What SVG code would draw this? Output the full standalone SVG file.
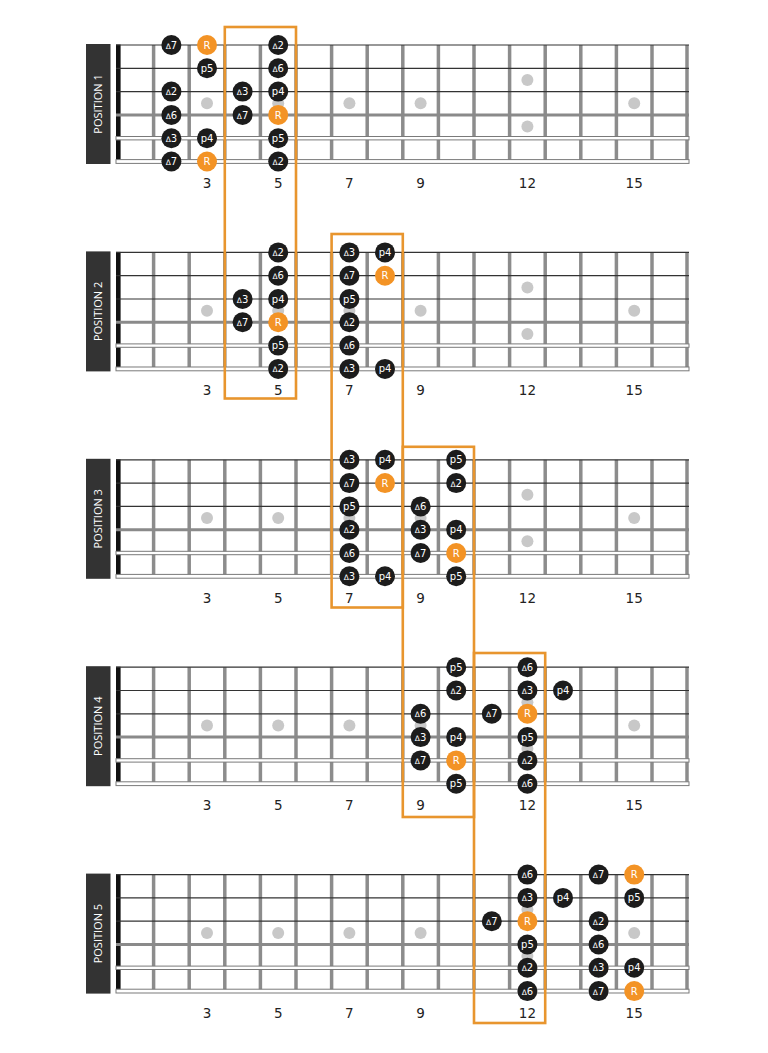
<svg xmlns="http://www.w3.org/2000/svg" xmlns:xlink="http://www.w3.org/1999/xlink" width="768" height="1053" viewBox="0 0 768 1053">
<style>
.fret{stroke:#8c8c8c;stroke-width:3.5}
.thin{stroke:#333;stroke-width:1.2}
.s4{stroke:#8a8a8a;stroke-width:3}
.wound{fill:#fff;stroke:#7a7a7a;stroke-width:1}
.mk{fill:#c8c8c8}
.lbl{fill:#333}
.lt{fill:#fff;font-family:"Open Sans","DejaVu Sans",sans-serif;font-size:11px;text-anchor:middle}
.num{fill:#222;font-family:"DejaVu Sans",Verdana,sans-serif;font-size:13.5px;text-anchor:middle}
.d{fill:#1c1c1c}
.r{fill:#f39325}
.t{fill:#fff;font-family:"DejaVu Sans",Verdana,sans-serif;font-size:10px;text-anchor:middle}
.tri{font-size:7.5px}
.box{fill:none;stroke:#e8952e;stroke-width:2.6}
</style>
<defs>
<g id="board">
<g class="fret">
<line x1="153.6" y1="0" x2="153.6" y2="116.5"/><line x1="189.2" y1="0" x2="189.2" y2="116.5"/><line x1="224.8" y1="0" x2="224.8" y2="116.5"/><line x1="260.4" y1="0" x2="260.4" y2="116.5"/><line x1="296" y1="0" x2="296" y2="116.5"/><line x1="331.6" y1="0" x2="331.6" y2="116.5"/><line x1="367.2" y1="0" x2="367.2" y2="116.5"/><line x1="402.8" y1="0" x2="402.8" y2="116.5"/><line x1="438.4" y1="0" x2="438.4" y2="116.5"/><line x1="474" y1="0" x2="474" y2="116.5"/><line x1="509.6" y1="0" x2="509.6" y2="116.5"/><line x1="545.2" y1="0" x2="545.2" y2="116.5"/><line x1="580.8" y1="0" x2="580.8" y2="116.5"/><line x1="616.4" y1="0" x2="616.4" y2="116.5"/><line x1="652" y1="0" x2="652" y2="116.5"/><line x1="687" y1="0" x2="687" y2="116.5"/>
</g>
<rect x="116" y="-0.5" width="4.6" height="117.5" fill="#111"/>
<line class="thin" x1="116" y1="0" x2="689" y2="0"/>
<line class="thin" x1="116" y1="23.3" x2="689" y2="23.3"/>
<line class="thin" x1="116" y1="46.6" x2="689" y2="46.6"/>
<line class="s4" x1="116" y1="69.9" x2="689" y2="69.9"/>
<rect class="wound" x="116" y="91.5" width="573" height="3.4"/>
<rect class="wound" x="116" y="114.6" width="573" height="3.8"/>
<circle class="mk" cx="207" cy="58.3" r="6"/><circle class="mk" cx="278.2" cy="58.3" r="6"/><circle class="mk" cx="349.4" cy="58.3" r="6"/><circle class="mk" cx="420.6" cy="58.3" r="6"/><circle class="mk" cx="527.4" cy="35" r="6"/><circle class="mk" cx="527.4" cy="81.5" r="6"/><circle class="mk" cx="634.2" cy="58.3" r="6"/>
</g>
</defs>

<g id="position-1" transform="translate(0,45)">
<use xlink:href="#board" href="#board"/>
<rect class="lbl" x="86" y="-1" width="24.5" height="120"/>
<text class="lt" transform="translate(102.3,59) rotate(-90)">POSITION 1</text>
<g class="nums"><text class="num" x="207" y="143">3</text><text class="num" x="278.2" y="143">5</text><text class="num" x="349.4" y="143">7</text><text class="num" x="420.6" y="143">9</text><text class="num" x="527.4" y="143">12</text><text class="num" x="634.2" y="143">15</text></g>
<circle class="d" cx="171.4" cy="0" r="10"/><text class="t" x="171.4" y="3.6"><tspan class="tri">Δ</tspan>7</text>
<circle class="r" cx="207" cy="0" r="10"/><text class="t" x="207" y="3.6">R</text>
<circle class="d" cx="278.2" cy="0" r="10"/><text class="t" x="278.2" y="3.6"><tspan class="tri">Δ</tspan>2</text>
<circle class="d" cx="207" cy="23.3" r="10"/><text class="t" x="207" y="26.9">p5</text>
<circle class="d" cx="278.2" cy="23.3" r="10"/><text class="t" x="278.2" y="26.9"><tspan class="tri">Δ</tspan>6</text>
<circle class="d" cx="171.4" cy="46.6" r="10"/><text class="t" x="171.4" y="50.2"><tspan class="tri">Δ</tspan>2</text>
<circle class="d" cx="242.6" cy="46.6" r="10"/><text class="t" x="242.6" y="50.2"><tspan class="tri">Δ</tspan>3</text>
<circle class="d" cx="278.2" cy="46.6" r="10"/><text class="t" x="278.2" y="50.2">p4</text>
<circle class="d" cx="171.4" cy="69.9" r="10"/><text class="t" x="171.4" y="73.5"><tspan class="tri">Δ</tspan>6</text>
<circle class="d" cx="242.6" cy="69.9" r="10"/><text class="t" x="242.6" y="73.5"><tspan class="tri">Δ</tspan>7</text>
<circle class="r" cx="278.2" cy="69.9" r="10"/><text class="t" x="278.2" y="73.5">R</text>
<circle class="d" cx="171.4" cy="93.2" r="10"/><text class="t" x="171.4" y="96.8"><tspan class="tri">Δ</tspan>3</text>
<circle class="d" cx="207" cy="93.2" r="10"/><text class="t" x="207" y="96.8">p4</text>
<circle class="d" cx="278.2" cy="93.2" r="10"/><text class="t" x="278.2" y="96.8">p5</text>
<circle class="d" cx="171.4" cy="116.5" r="10"/><text class="t" x="171.4" y="120.1"><tspan class="tri">Δ</tspan>7</text>
<circle class="r" cx="207" cy="116.5" r="10"/><text class="t" x="207" y="120.1">R</text>
<circle class="d" cx="278.2" cy="116.5" r="10"/><text class="t" x="278.2" y="120.1"><tspan class="tri">Δ</tspan>2</text>
</g>

<g id="position-2" transform="translate(0,252.4)">
<use xlink:href="#board" href="#board"/>
<rect class="lbl" x="86" y="-1" width="24.5" height="120"/>
<text class="lt" transform="translate(102.3,59) rotate(-90)">POSITION 2</text>
<g class="nums"><text class="num" x="207" y="143">3</text><text class="num" x="278.2" y="143">5</text><text class="num" x="349.4" y="143">7</text><text class="num" x="420.6" y="143">9</text><text class="num" x="527.4" y="143">12</text><text class="num" x="634.2" y="143">15</text></g>
<circle class="d" cx="278.2" cy="0" r="10"/><text class="t" x="278.2" y="3.6"><tspan class="tri">Δ</tspan>2</text>
<circle class="d" cx="349.4" cy="0" r="10"/><text class="t" x="349.4" y="3.6"><tspan class="tri">Δ</tspan>3</text>
<circle class="d" cx="385" cy="0" r="10"/><text class="t" x="385" y="3.6">p4</text>
<circle class="d" cx="278.2" cy="23.3" r="10"/><text class="t" x="278.2" y="26.9"><tspan class="tri">Δ</tspan>6</text>
<circle class="d" cx="349.4" cy="23.3" r="10"/><text class="t" x="349.4" y="26.9"><tspan class="tri">Δ</tspan>7</text>
<circle class="r" cx="385" cy="23.3" r="10"/><text class="t" x="385" y="26.9">R</text>
<circle class="d" cx="242.6" cy="46.6" r="10"/><text class="t" x="242.6" y="50.2"><tspan class="tri">Δ</tspan>3</text>
<circle class="d" cx="278.2" cy="46.6" r="10"/><text class="t" x="278.2" y="50.2">p4</text>
<circle class="d" cx="349.4" cy="46.6" r="10"/><text class="t" x="349.4" y="50.2">p5</text>
<circle class="d" cx="242.6" cy="69.9" r="10"/><text class="t" x="242.6" y="73.5"><tspan class="tri">Δ</tspan>7</text>
<circle class="r" cx="278.2" cy="69.9" r="10"/><text class="t" x="278.2" y="73.5">R</text>
<circle class="d" cx="349.4" cy="69.9" r="10"/><text class="t" x="349.4" y="73.5"><tspan class="tri">Δ</tspan>2</text>
<circle class="d" cx="278.2" cy="93.2" r="10"/><text class="t" x="278.2" y="96.8">p5</text>
<circle class="d" cx="349.4" cy="93.2" r="10"/><text class="t" x="349.4" y="96.8"><tspan class="tri">Δ</tspan>6</text>
<circle class="d" cx="278.2" cy="116.5" r="10"/><text class="t" x="278.2" y="120.1"><tspan class="tri">Δ</tspan>2</text>
<circle class="d" cx="349.4" cy="116.5" r="10"/><text class="t" x="349.4" y="120.1"><tspan class="tri">Δ</tspan>3</text>
<circle class="d" cx="385" cy="116.5" r="10"/><text class="t" x="385" y="120.1">p4</text>
</g>

<g id="position-3" transform="translate(0,459.8)">
<use xlink:href="#board" href="#board"/>
<rect class="lbl" x="86" y="-1" width="24.5" height="120"/>
<text class="lt" transform="translate(102.3,59) rotate(-90)">POSITION 3</text>
<g class="nums"><text class="num" x="207" y="143">3</text><text class="num" x="278.2" y="143">5</text><text class="num" x="349.4" y="143">7</text><text class="num" x="420.6" y="143">9</text><text class="num" x="527.4" y="143">12</text><text class="num" x="634.2" y="143">15</text></g>
<circle class="d" cx="349.4" cy="0" r="10"/><text class="t" x="349.4" y="3.6"><tspan class="tri">Δ</tspan>3</text>
<circle class="d" cx="385" cy="0" r="10"/><text class="t" x="385" y="3.6">p4</text>
<circle class="d" cx="456.2" cy="0" r="10"/><text class="t" x="456.2" y="3.6">p5</text>
<circle class="d" cx="349.4" cy="23.3" r="10"/><text class="t" x="349.4" y="26.9"><tspan class="tri">Δ</tspan>7</text>
<circle class="r" cx="385" cy="23.3" r="10"/><text class="t" x="385" y="26.9">R</text>
<circle class="d" cx="456.2" cy="23.3" r="10"/><text class="t" x="456.2" y="26.9"><tspan class="tri">Δ</tspan>2</text>
<circle class="d" cx="349.4" cy="46.6" r="10"/><text class="t" x="349.4" y="50.2">p5</text>
<circle class="d" cx="420.6" cy="46.6" r="10"/><text class="t" x="420.6" y="50.2"><tspan class="tri">Δ</tspan>6</text>
<circle class="d" cx="349.4" cy="69.9" r="10"/><text class="t" x="349.4" y="73.5"><tspan class="tri">Δ</tspan>2</text>
<circle class="d" cx="420.6" cy="69.9" r="10"/><text class="t" x="420.6" y="73.5"><tspan class="tri">Δ</tspan>3</text>
<circle class="d" cx="456.2" cy="69.9" r="10"/><text class="t" x="456.2" y="73.5">p4</text>
<circle class="d" cx="349.4" cy="93.2" r="10"/><text class="t" x="349.4" y="96.8"><tspan class="tri">Δ</tspan>6</text>
<circle class="d" cx="420.6" cy="93.2" r="10"/><text class="t" x="420.6" y="96.8"><tspan class="tri">Δ</tspan>7</text>
<circle class="r" cx="456.2" cy="93.2" r="10"/><text class="t" x="456.2" y="96.8">R</text>
<circle class="d" cx="349.4" cy="116.5" r="10"/><text class="t" x="349.4" y="120.1"><tspan class="tri">Δ</tspan>3</text>
<circle class="d" cx="385" cy="116.5" r="10"/><text class="t" x="385" y="120.1">p4</text>
<circle class="d" cx="456.2" cy="116.5" r="10"/><text class="t" x="456.2" y="120.1">p5</text>
</g>

<g id="position-4" transform="translate(0,667.2)">
<use xlink:href="#board" href="#board"/>
<rect class="lbl" x="86" y="-1" width="24.5" height="120"/>
<text class="lt" transform="translate(102.3,59) rotate(-90)">POSITION 4</text>
<g class="nums"><text class="num" x="207" y="143">3</text><text class="num" x="278.2" y="143">5</text><text class="num" x="349.4" y="143">7</text><text class="num" x="420.6" y="143">9</text><text class="num" x="527.4" y="143">12</text><text class="num" x="634.2" y="143">15</text></g>
<circle class="d" cx="456.2" cy="0" r="10"/><text class="t" x="456.2" y="3.6">p5</text>
<circle class="d" cx="527.4" cy="0" r="10"/><text class="t" x="527.4" y="3.6"><tspan class="tri">Δ</tspan>6</text>
<circle class="d" cx="456.2" cy="23.3" r="10"/><text class="t" x="456.2" y="26.9"><tspan class="tri">Δ</tspan>2</text>
<circle class="d" cx="527.4" cy="23.3" r="10"/><text class="t" x="527.4" y="26.9"><tspan class="tri">Δ</tspan>3</text>
<circle class="d" cx="563" cy="23.3" r="10"/><text class="t" x="563" y="26.9">p4</text>
<circle class="d" cx="420.6" cy="46.6" r="10"/><text class="t" x="420.6" y="50.2"><tspan class="tri">Δ</tspan>6</text>
<circle class="d" cx="491.8" cy="46.6" r="10"/><text class="t" x="491.8" y="50.2"><tspan class="tri">Δ</tspan>7</text>
<circle class="r" cx="527.4" cy="46.6" r="10"/><text class="t" x="527.4" y="50.2">R</text>
<circle class="d" cx="420.6" cy="69.9" r="10"/><text class="t" x="420.6" y="73.5"><tspan class="tri">Δ</tspan>3</text>
<circle class="d" cx="456.2" cy="69.9" r="10"/><text class="t" x="456.2" y="73.5">p4</text>
<circle class="d" cx="527.4" cy="69.9" r="10"/><text class="t" x="527.4" y="73.5">p5</text>
<circle class="d" cx="420.6" cy="93.2" r="10"/><text class="t" x="420.6" y="96.8"><tspan class="tri">Δ</tspan>7</text>
<circle class="r" cx="456.2" cy="93.2" r="10"/><text class="t" x="456.2" y="96.8">R</text>
<circle class="d" cx="527.4" cy="93.2" r="10"/><text class="t" x="527.4" y="96.8"><tspan class="tri">Δ</tspan>2</text>
<circle class="d" cx="456.2" cy="116.5" r="10"/><text class="t" x="456.2" y="120.1">p5</text>
<circle class="d" cx="527.4" cy="116.5" r="10"/><text class="t" x="527.4" y="120.1"><tspan class="tri">Δ</tspan>6</text>
</g>

<g id="position-5" transform="translate(0,874.6)">
<use xlink:href="#board" href="#board"/>
<rect class="lbl" x="86" y="-1" width="24.5" height="120"/>
<text class="lt" transform="translate(102.3,59) rotate(-90)">POSITION 5</text>
<g class="nums"><text class="num" x="207" y="143">3</text><text class="num" x="278.2" y="143">5</text><text class="num" x="349.4" y="143">7</text><text class="num" x="420.6" y="143">9</text><text class="num" x="527.4" y="143">12</text><text class="num" x="634.2" y="143">15</text></g>
<circle class="d" cx="527.4" cy="0" r="10"/><text class="t" x="527.4" y="3.6"><tspan class="tri">Δ</tspan>6</text>
<circle class="d" cx="598.6" cy="0" r="10"/><text class="t" x="598.6" y="3.6"><tspan class="tri">Δ</tspan>7</text>
<circle class="r" cx="634.2" cy="0" r="10"/><text class="t" x="634.2" y="3.6">R</text>
<circle class="d" cx="527.4" cy="23.3" r="10"/><text class="t" x="527.4" y="26.9"><tspan class="tri">Δ</tspan>3</text>
<circle class="d" cx="563" cy="23.3" r="10"/><text class="t" x="563" y="26.9">p4</text>
<circle class="d" cx="634.2" cy="23.3" r="10"/><text class="t" x="634.2" y="26.9">p5</text>
<circle class="d" cx="491.8" cy="46.6" r="10"/><text class="t" x="491.8" y="50.2"><tspan class="tri">Δ</tspan>7</text>
<circle class="r" cx="527.4" cy="46.6" r="10"/><text class="t" x="527.4" y="50.2">R</text>
<circle class="d" cx="598.6" cy="46.6" r="10"/><text class="t" x="598.6" y="50.2"><tspan class="tri">Δ</tspan>2</text>
<circle class="d" cx="527.4" cy="69.9" r="10"/><text class="t" x="527.4" y="73.5">p5</text>
<circle class="d" cx="598.6" cy="69.9" r="10"/><text class="t" x="598.6" y="73.5"><tspan class="tri">Δ</tspan>6</text>
<circle class="d" cx="527.4" cy="93.2" r="10"/><text class="t" x="527.4" y="96.8"><tspan class="tri">Δ</tspan>2</text>
<circle class="d" cx="598.6" cy="93.2" r="10"/><text class="t" x="598.6" y="96.8"><tspan class="tri">Δ</tspan>3</text>
<circle class="d" cx="634.2" cy="93.2" r="10"/><text class="t" x="634.2" y="96.8">p4</text>
<circle class="d" cx="527.4" cy="116.5" r="10"/><text class="t" x="527.4" y="120.1"><tspan class="tri">Δ</tspan>6</text>
<circle class="d" cx="598.6" cy="116.5" r="10"/><text class="t" x="598.6" y="120.1"><tspan class="tri">Δ</tspan>7</text>
<circle class="r" cx="634.2" cy="116.5" r="10"/><text class="t" x="634.2" y="120.1">R</text>
</g>

<g id="position-boxes">
<rect class="box" x="224.8" y="27" width="71.2" height="371.5"/>
<rect class="box" x="331.6" y="234" width="71.2" height="373.5"/>
<rect class="box" x="402.8" y="446.8" width="71.2" height="370.2"/>
<rect class="box" x="474" y="653" width="71.2" height="370"/>
</g>
</svg>
